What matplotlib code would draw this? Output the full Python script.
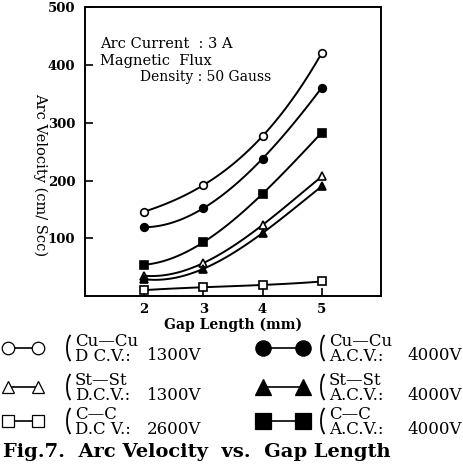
import numpy as np
import matplotlib
matplotlib.use('Agg')
import matplotlib.pyplot as plt
from matplotlib.lines import Line2D
from matplotlib.patches import Arc
from matplotlib.transforms import IdentityTransform

plt.rcParams['font.family'] = 'DejaVu Serif'

gap = [2, 3, 4, 5]
cu_dc = [146, 192, 277, 421]
cu_ac = [119, 152, 238, 361]
c_ac = [54, 93, 177, 283]
st_dc = [35, 57, 123, 207]
st_ac = [29, 47, 109, 190]
c_dc = [10, 15, 19, 25]

yticks = [100, 200, 300, 400, 500]

# marker, filled
series = [
	(cu_dc, 'o', False),
	(cu_ac, 'o', True),
	(c_ac, 's', True),
	(st_dc, '^', False),
	(st_ac, '^', True),
	(c_dc, 's', False),
]

W, H = 464.0, 466.0
def px(x, y):
	return x / W, 1 - y / H

fig = plt.figure(figsize=(4.64, 4.66), dpi=100)
ax = fig.add_axes([0.183, 0.365, 0.638, 0.619])

xs = np.linspace(2, 5, 100)
for vals, m, filled in series:
	fit = np.polyfit(gap, vals, 3)
	ax.plot(xs, np.polyval(fit, xs), color='black', lw=1.4, zorder=2)
	ax.plot(gap, vals, ls='none', marker=m, ms=5.5, mec='black', mew=1.2,
		mfc='black' if filled else 'white', zorder=3)

ax.set_xlim(1, 6)
ax.set_ylim(0, 500)
ax.set_xticks(gap)
ax.set_yticks(yticks)
ax.tick_params(direction='in', length=6, width=1.2, labelsize=9.5, pad=7)
ax.tick_params(axis='x', pad=5)
for lab in ax.get_xticklabels() + ax.get_yticklabels():
	lab.set_fontweight('bold')
for s in ax.spines.values():
	s.set_linewidth(1.4)

ax.set_xlabel('Gap Length (mm)', fontsize=10, fontweight='bold', labelpad=1)
a, b = px(40, 175)
fig.text(a, b, 'Arc Velocity (cm/ Scc)', fontsize=10.5, rotation=-90,
	ha='center', va='center')

ax.text(1.25, 436, 'Arc Current  : 3 A', fontsize=10.5, va='center')
ax.text(1.25, 407, 'Magnetic  Flux', fontsize=10.5, va='center')
ax.text(1.93, 379, 'Density : 50 Gauss', fontsize=10, va='center')

# legend block below the axes
legend_left = [
	('o', False, 'Cu\u2014Cu', 'D C.V.:', '1300V', 348),
	('^', False, 'St\u2014St', 'D.C.V.:', '1300V', 387),
	('s', False, 'C\u2014C', 'D.C V.:', '2600V', 421),
]
legend_right = [
	('o', True, 'Cu\u2014Cu', 'A.C.V.:', '4000V', 348),
	('^', True, 'St\u2014St', 'A.C.V.:', '4000V', 387),
	('s', True, 'C\u2014C', 'A.C.V.:', '4000V', 421),
]

def legend_row(x0, dx, xb, xv, m, filled, top, bottom, volt, yc, ms):
	a, b = px(x0, yc)
	c, d = px(x0 + dx, yc)
	fig.add_artist(Line2D([a, c], [b, d], color='black', lw=1.2,
		transform=fig.transFigure))
	for xx in (x0, x0 + dx):
		e, f = px(xx, yc)
		fig.add_artist(Line2D([e], [f], ls='none', marker=m, ms=ms, mec='black', mew=0.9,
			mfc='black' if filled else 'white', transform=fig.transFigure))
	# bracket drawn in output pixels
	fig.add_artist(Arc((xb + 8, H - yc), 14, 30, theta1=105, theta2=255,
		lw=1.3, color='black', transform=IdentityTransform()))
	g, h = px(xb + 9, yc + 1)
	fig.text(g, h, top + '\n' + bottom, fontsize=12, va='center', ha='left',
		linespacing=0.9)
	g, h = px(xv, yc + 8)
	fig.text(g, h, volt, fontsize=12, va='center', ha='right')

for m, filled, top, bottom, volt, yc in legend_left:
	legend_row(8, 30, 66, 201, m, filled, top, bottom, volt, yc, 9)
for m, filled, top, bottom, volt, yc in legend_right:
	legend_row(263, 40, 320, 462, m, filled, top, bottom, volt, yc, 11)

a, b = px(3, 452)
fig.text(a, b, 'Fig.7.  Arc Velocity  vs.  Gap Length', fontsize=14, fontweight='bold',
	va='center', ha='left')

fig.savefig('out.png', dpi=100)
